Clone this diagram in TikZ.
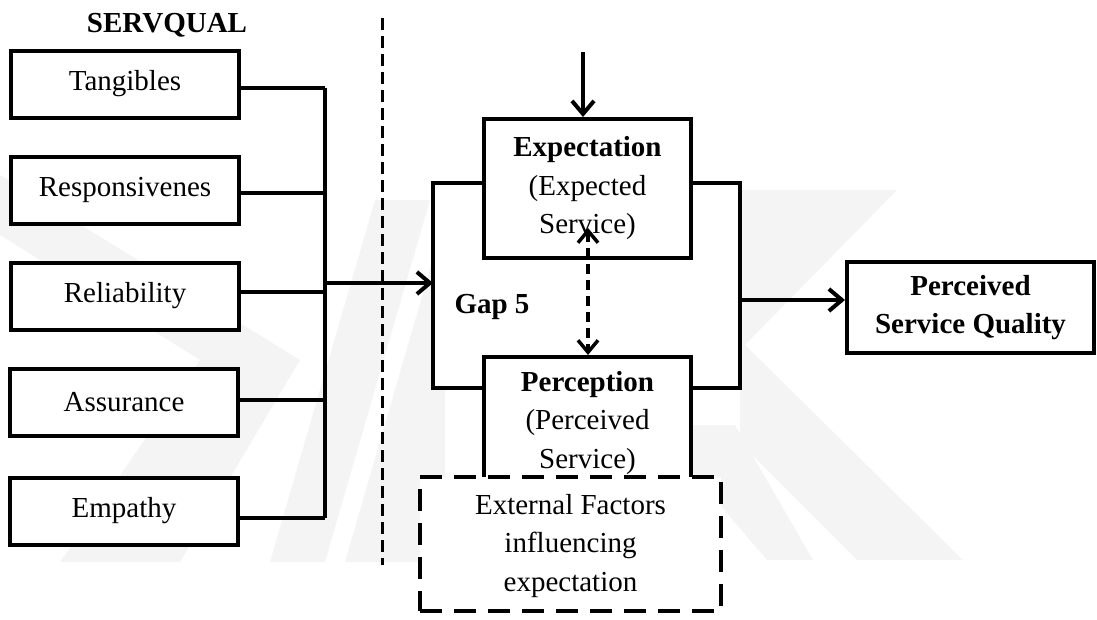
\documentclass[tikz,border=0pt]{standalone}
\usepackage{fontspec}
\setmainfont{Liberation Serif}
\usetikzlibrary{arrows.meta}
\begin{document}
\begin{tikzpicture}[x=1pt,y=-1pt,
  every node/.style={font=\fontsize{29}{38.5}\selectfont},
  wm/.style={fill=black!4.5},
  factor/.style={draw,line width=4pt,fill=white,minimum width=228pt,minimum height=67pt,inner sep=0pt},
  core/.style={draw,line width=4pt,fill=white,minimum width=207pt,inner sep=0pt,align=center},
  lbl/.style={inner sep=0pt,align=center},
  link/.style={line width=3.3pt},
  frameline/.style={line width=4.5pt,line join=miter},
  flow/.style={line width=4pt,-{Straight Barb[length=13pt,width=22pt]}},
  gapflow/.style={line width=3.5pt,dash pattern=on 10pt off 6pt,
    {Straight Barb[length=12pt,width=20pt]}-{Straight Barb[length=12pt,width=20pt]}},
  divider/.style={line width=3pt,dash pattern=on 12pt off 6pt},
  extbox/.style={draw,line width=4.5pt,dash pattern=on 22pt off 12pt,fill=white,
    minimum width=301pt,minimum height=134pt,inner sep=0pt}
]
\useasboundingbox (0,0) rectangle (1097,619);

% faint background emblem
\fill[wm] (0,175) -- (300,360) -- (180,562) -- (60,562) -- (200,360) -- (0,235) -- cycle;
\fill[wm] (270,562) -- (325,562) -- (430,200) -- (375,200) -- cycle;
\fill[wm] (345,562) -- (445,562) -- (445,200) -- (450,200) -- cycle;
\fill[wm] (740,190) -- (897,190) -- (740,350) -- cycle;
\fill[wm] (740,340) -- (963,560) -- (857,560) -- (740,443) -- cycle;
\fill[wm] (690,425) -- (735,425) -- (813,560) -- (767,560) -- (690,470) -- cycle;

% gap frame backdrop
\fill[white] (433,183) rectangle (740,388);

% SERVQUAL dimensions
\node[lbl,anchor=base,font=\fontsize{29}{38.5}\selectfont\bfseries] (title) at (167,32) {SERVQUAL};
\node[factor] (tang) at (125,84) {Tangibles};
\node[factor] (resp) at (125,190) {Responsivenes};
\node[factor] (reli) at (125,296) {Reliability};
\node[factor] (assu) at (124,402) {Assurance};
\node[factor] (empa) at (124,511) {Empathy};

% collecting bus
\coordinate (bt) at (325,88);
\coordinate (bb) at (325,518);
\coordinate (bo) at (325,283);
\draw[link] (bt) -- (bb);
\draw[link] ([yshift=-4pt]tang.east) -- ([yshift=-4pt]tang.east -| bt);
\draw[link] ([yshift=-3pt]resp.east) -- ([yshift=-3pt]resp.east -| bt);
\draw[link] ([yshift=4pt]reli.east) -- ([yshift=4pt]reli.east -| bt);
\draw[link] ([yshift=2pt]assu.east) -- ([yshift=2pt]assu.east -| bt);
\draw[link] ([yshift=-7pt]empa.east) -- ([yshift=-7pt]empa.east -| bt);

% dashed divider
\coordinate (dvt) at (382,18);
\coordinate (dvb) at (382,565);
\draw[divider] (dvt) -- (dvb);

% gap model
\coordinate (fTL) at (433,183);
\coordinate (fBL) at (433,388);
\coordinate (fTR) at (740,183);
\coordinate (fBR) at (740,388);

\node[core,minimum height=139pt] (exp) at (587.5,188.5) {\textbf{Expectation}\\(Expected\\Service)};
\node[core,minimum height=163pt] (per) at (587.5,438.5) {};

\draw[frameline] (fTL -| exp.west) -- (fTL) -- (fBL) -- (fBL -| per.west);
\draw[frameline] (fTR -| exp.east) -- (fTR) -- (fBR) -- (fBR -| per.east);

\node[extbox] (ext) at (570.5,544) {};
\node[lbl] (extt) at (570.5,546) {External Factors\\influencing\\expectation};
\node[lbl] (pert) at (587.5,423) {\textbf{Perception}\\(Perceived\\Service)};

\node[lbl,anchor=base,font=\fontsize{29}{38.5}\selectfont\bfseries] (gap) at (492,313) {Gap 5};

\node[draw,line width=4pt,fill=white,minimum width=247pt,minimum height=91pt,inner sep=0pt,align=center,
  font=\fontsize{29}{38.5}\selectfont\bfseries] (psq) at (970.5,307.5) {Perceived\\Service Quality};

% connectors
\draw[flow] (bo) -- (bo -| fTL);
\coordinate (tin) at (583,52);
\draw[flow] (tin) -- (tin |- exp.north);
\coordinate (fo) at (740,300);
\draw[flow] (fo) -- (fo -| psq.west);
\coordinate (dtop) at (588,228);
\draw[gapflow] (dtop) -- (dtop |- per.north);
\end{tikzpicture}
\end{document}
